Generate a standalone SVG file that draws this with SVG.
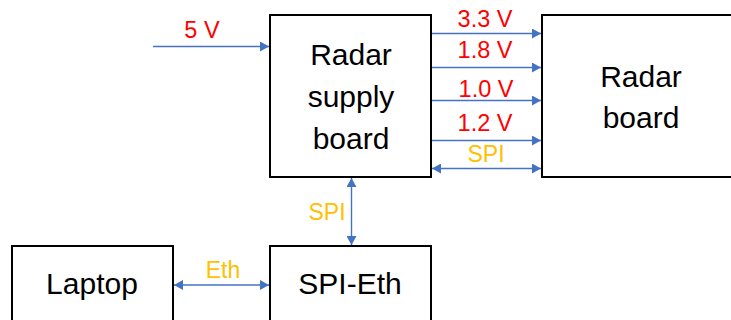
<svg xmlns="http://www.w3.org/2000/svg" width="731" height="320" viewBox="0 0 731 320">
<style>
.box{fill:#fff;stroke:#000;stroke-width:2}
.lbl{font-family:"Liberation Sans",Arial,sans-serif;font-size:30px;fill:#000;text-anchor:middle}
.v{font-family:"Liberation Sans",Arial,sans-serif;font-size:23.5px;fill:#FF0000;text-anchor:middle}
.s{font-family:"Liberation Sans",Arial,sans-serif;font-size:23px;fill:#FFC000;text-anchor:middle}
.c{stroke:#4472C4;stroke-width:1.4;fill:none}
</style>
<defs>
<marker id="ah" markerWidth="10" markerHeight="10" refX="9" refY="5" orient="auto-start-reverse" markerUnits="userSpaceOnUse">
<path d="M0,0 L9,5 L0,10 Z" fill="#4472C4"/>
</marker>
</defs>
<rect width="731" height="320" fill="#fff"/>
<g id="connectors">
<line class="c" x1="153" y1="46.5" x2="269" y2="46.5" marker-end="url(#ah)"/>
<line class="c" x1="432" y1="33.5" x2="541" y2="33.5" marker-end="url(#ah)"/>
<line class="c" x1="432" y1="67.5" x2="541" y2="67.5" marker-end="url(#ah)"/>
<line class="c" x1="432" y1="100.5" x2="541" y2="100.5" marker-end="url(#ah)"/>
<line class="c" x1="432" y1="140.5" x2="541" y2="140.5" marker-end="url(#ah)"/>
<line class="c" x1="432" y1="168.5" x2="541" y2="168.5" marker-start="url(#ah)" marker-end="url(#ah)"/>
<line class="c" x1="351.5" y1="178" x2="351.5" y2="245" marker-start="url(#ah)" marker-end="url(#ah)"/>
<line class="c" x1="174" y1="285" x2="269" y2="285" marker-start="url(#ah)" marker-end="url(#ah)"/>
<text class="v" x="202" y="38">5 V</text>
<text class="v" x="485" y="27">3.3 V</text>
<text class="v" x="485" y="58">1.8 V</text>
<text class="v" x="486" y="97">1.0 V</text>
<text class="v" x="485" y="131">1.2 V</text>
<text class="s" x="486" y="162">SPI</text>
<text class="s" x="327" y="220">SPI</text>
<text class="s" x="223" y="278">Eth</text>
</g>
<g id="supply">
<rect class="box" x="270" y="15" width="161" height="162"/>
<text class="lbl" x="351" y="65">Radar</text>
<text class="lbl" x="351" y="107">supply</text>
<text class="lbl" x="351" y="149">board</text>
</g>
<g id="radar">
<rect class="box" x="542" y="15" width="200" height="162"/>
<text class="lbl" x="641" y="87">Radar</text>
<text class="lbl" x="641" y="128">board</text>
</g>
<g id="laptop">
<rect class="box" x="12" y="246" width="161" height="90"/>
<text class="lbl" x="92" y="294">Laptop</text>
</g>
<g id="spieth">
<rect class="box" x="270" y="246" width="161" height="90"/>
<text class="lbl" x="350" y="294">SPI-Eth</text>
</g>
</svg>
